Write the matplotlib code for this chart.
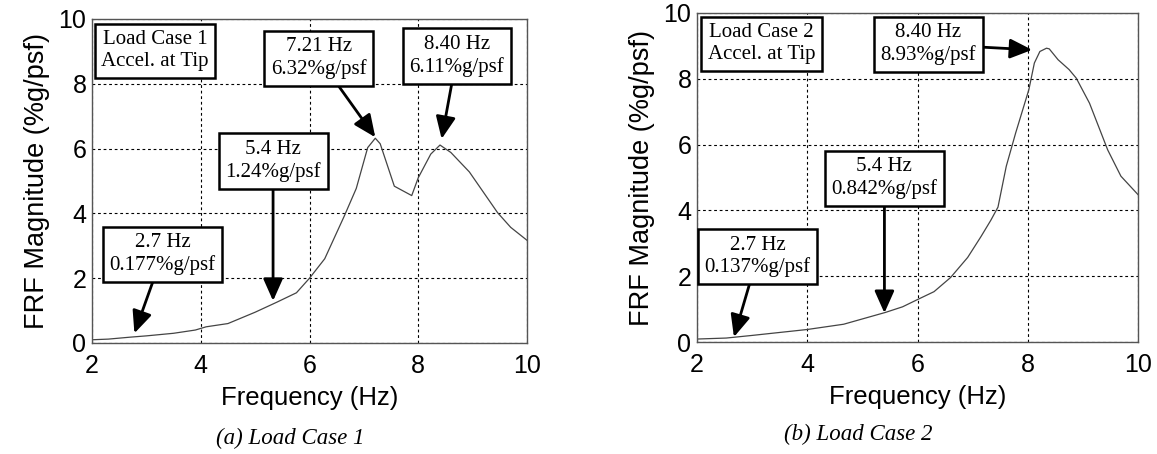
import matplotlib.pyplot as plt

# =========================
# DATA
# =========================
freq1 = [2.0, 2.3, 2.7, 3.0, 3.5, 3.9, 4.1, 4.5, 5.0, 5.4, 5.76, 6.0, 6.28, 6.64, 6.86,
         7.07, 7.21, 7.3, 7.56, 7.88, 8.0, 8.23, 8.4, 8.6, 8.94, 9.46, 9.7, 10.0]
mag1 = [0.10, 0.12, 0.18, 0.22, 0.30, 0.40, 0.50, 0.60, 0.95, 1.26, 1.55, 2.0, 2.6, 3.92, 4.77,
        6.03, 6.32, 6.15, 4.84, 4.55, 5.1, 5.83, 6.11, 5.88, 5.28, 4.02, 3.57, 3.17]

freq2 = [2.0, 2.53, 3.0, 4.0, 4.66, 5.42, 5.73, 6.0, 6.3, 6.6, 6.91, 7.15, 7.33, 7.46, 7.61,
         7.78, 8.02, 8.12, 8.22, 8.34, 8.39, 8.55, 8.75, 8.88, 9.12, 9.45, 9.69, 10.0]
mag2 = [0.09, 0.12, 0.2, 0.38, 0.54, 0.9, 1.07, 1.29, 1.53, 1.96, 2.57, 3.2, 3.7, 4.1, 5.34,
        6.35, 7.67, 8.48, 8.83, 8.93, 8.91, 8.58, 8.28, 8.02, 7.26, 5.84, 5.04, 4.48]

# label, text position, arrow tip (None = no arrow)
notes1 = [
    ("Load Case 1\nAccel. at Tip", (3.16, 9.02), None),
    ("7.21 Hz\n6.32%g/psf", (6.17, 8.79), (7.21, 6.35)),
    ("8.40 Hz\n6.11%g/psf", (8.71, 8.86), (8.43, 6.3)),
    ("5.4 Hz\n1.24%g/psf", (5.33, 5.62), (5.33, 1.3)),
    ("2.7 Hz\n0.177%g/psf", (3.3, 2.74), (2.78, 0.3)),
]
notes2 = [
    ("Load Case 2\nAccel. at Tip", (3.17, 9.07), None),
    ("8.40 Hz\n8.93%g/psf", (6.2, 9.05), (8.08, 8.88)),
    ("5.4 Hz\n0.842%g/psf", (5.4, 4.98), (5.4, 0.88)),
    ("2.7 Hz\n0.137%g/psf", (3.1, 2.6), (2.67, 0.15)),
]

captions = ["(a) Load Case 1", "(b) Load Case 2"]

# =========================
# PLOT
# =========================
fig = plt.figure(figsize=(11.57, 4.54), dpi=100)
ax1 = fig.add_axes([92/1157, 1-343/454, 435/1157, 324/454])
ax2 = fig.add_axes([697/1157, 1-342/454, 441/1157, 329/454])

serif = "Liberation Serif"
sans = "Liberation Sans"


def draw(ax, x, y, notes):
    ax.plot(x, y, color="#444444", lw=0.9)
    ax.set_xlim(2, 10)
    ax.set_ylim(0, 10)
    ax.set_xticks([2, 4, 6, 8, 10])
    ax.set_yticks([0, 2, 4, 6, 8, 10])
    ax.grid(True, color="black", linestyle=(0, (2.5, 2.5)), lw=0.8)
    for s in ax.spines.values():
        s.set_color("#555555")
        s.set_linewidth(1.0)
    ax.tick_params(length=0, labelsize=18)
    ax.tick_params(axis="x", pad=8)
    ax.tick_params(axis="y", pad=4)
    for lab in ax.get_xticklabels() + ax.get_yticklabels():
        lab.set_family(sans)
    ax.set_xlabel("Frequency (Hz)", fontsize=18.5, family=sans, labelpad=6)
    ax.set_ylabel("FRF Magnitude (%g/psf)", fontsize=19.5, family=sans, labelpad=6)

    for txt, pos, tip in notes:
        box = dict(boxstyle="square,pad=0.32", fc="white", ec="black", lw=1.8)
        if tip is None:
            ax.text(pos[0], pos[1], txt, ha="center", va="center", fontsize=15,
                    family=serif, bbox=box, zorder=5)
        else:
            ax.annotate(txt, xy=tip, xytext=pos, ha="center", va="center",
                        fontsize=15, family=serif, bbox=box, zorder=5,
                        arrowprops=dict(arrowstyle="-|>,head_length=0.9,head_width=0.4",
                                        color="black", lw=2.0, shrinkA=0, shrinkB=0,
                                        mutation_scale=15))


draw(ax1, freq1, mag1, notes1)
draw(ax2, freq2, mag2, notes2)

fig.text(290/1157, 1-438/454, captions[0], ha="center", va="center",
         fontsize=16.5, family=serif, style="italic")
fig.text(858/1157, 1-434/454, captions[1], ha="center", va="center",
         fontsize=16.5, family=serif, style="italic")

plt.savefig("out.png", dpi=100)
